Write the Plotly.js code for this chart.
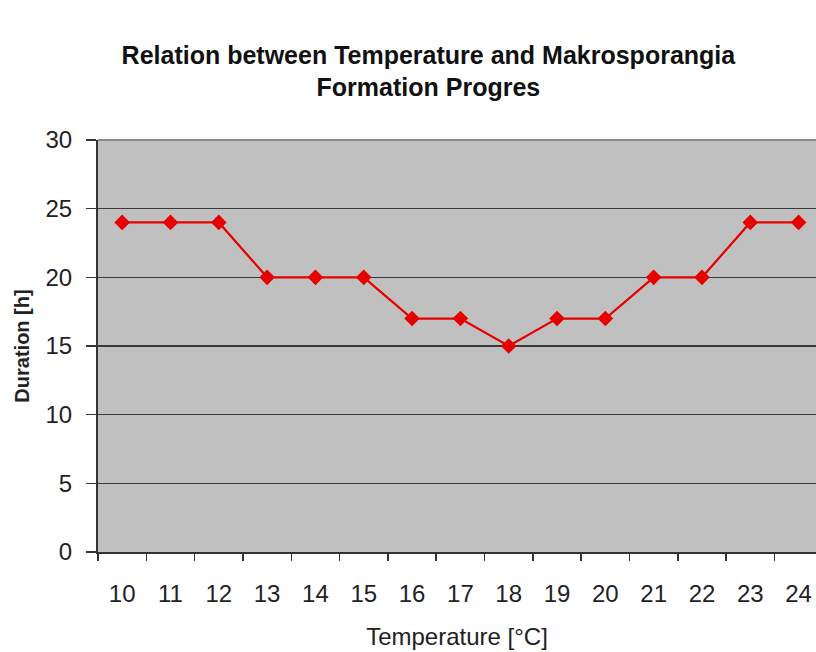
<!DOCTYPE html>
<html>
<head>
<meta charset="utf-8">
<script src="https://cdn.plot.ly/plotly-3.0.1.min.js"></script>
<style>html,body{margin:0;padding:0;background:#fff;}#chart{width:816px;height:652px;}</style>
</head>
<body>
<div id="chart"></div>
<script>
const temperatures = ["10","11","12","13","14","15","16","17","18","19","20","21","22","23","24"];
const durations = [24,24,24,20,20,20,17,17,15,17,17,20,20,24,24];
const yTicks = [0,5,10,15,20,25,30];

const trace = {
  x: temperatures,
  y: durations,
  type: 'scatter',
  mode: 'lines+markers',
  line: {color: '#e60000', width: 2.2},
  marker: {symbol: 'diamond', size: 12, color: '#e60000'},
  hoverinfo: 'x+y'
};

const layout = {
  width: 816, height: 652,
  margin: {l: 98, r: 0, t: 140, b: 100},
  paper_bgcolor: '#ffffff',
  plot_bgcolor: '#c0c0c0',
  showlegend: false,
  font: {family: 'Liberation Sans, Arial, sans-serif', color: '#222'},
  title: {
    text: '<b>Relation between Temperature and Makrosporangia<br>Formation Progres</b>',
    font: {family: 'Liberation Sans, Arial, sans-serif', size: 25, color: '#111'},
    x: 0.525, xanchor: 'center', xref: 'container',
    y: 0.902, yanchor: 'top', yref: 'container'
  },
  xaxis: {
    type: 'category',
    range: [-0.5, 14.36],
    tickson: 'boundaries',
    ticks: 'outside', ticklen: 7, tickwidth: 1.5, tickcolor: '#333',
    ticklabelstandoff: 19,
    showgrid: false,
    showline: true, linecolor: '#333', linewidth: 2,
    tickfont: {size: 24, color: '#222'},
    title: {text: 'Temperature [°C]', font: {size: 24, color: '#222'}, standoff: 22},
    fixedrange: true
  },
  yaxis: {
    range: [0, 30],
    tickvals: yTicks,
    ticktext: yTicks.map(String),
    ticks: 'outside', ticklen: 10, tickwidth: 1.5, tickcolor: '#333',
    ticklabelstandoff: 9,
    showgrid: true, gridcolor: '#3a3a3a', gridwidth: 1.3,
    zeroline: false,
    showline: true, linecolor: '#333', linewidth: 2,
    tickfont: {size: 24, color: '#222'},
    title: {text: '<b>Duration [h]</b>', font: {size: 20, color: '#222'}, standoff: 10},
    fixedrange: true
  },
  shapes: [
    {type: 'line', xref: 'paper', yref: 'paper', x0: 0, x1: 1, y0: 1, y1: 1,
     line: {color: '#8a8a8a', width: 2}, layer: 'above'}
  ]
};

Plotly.newPlot('chart', [trace], layout, {displayModeBar: false, staticPlot: true});
</script>
</body>
</html>
